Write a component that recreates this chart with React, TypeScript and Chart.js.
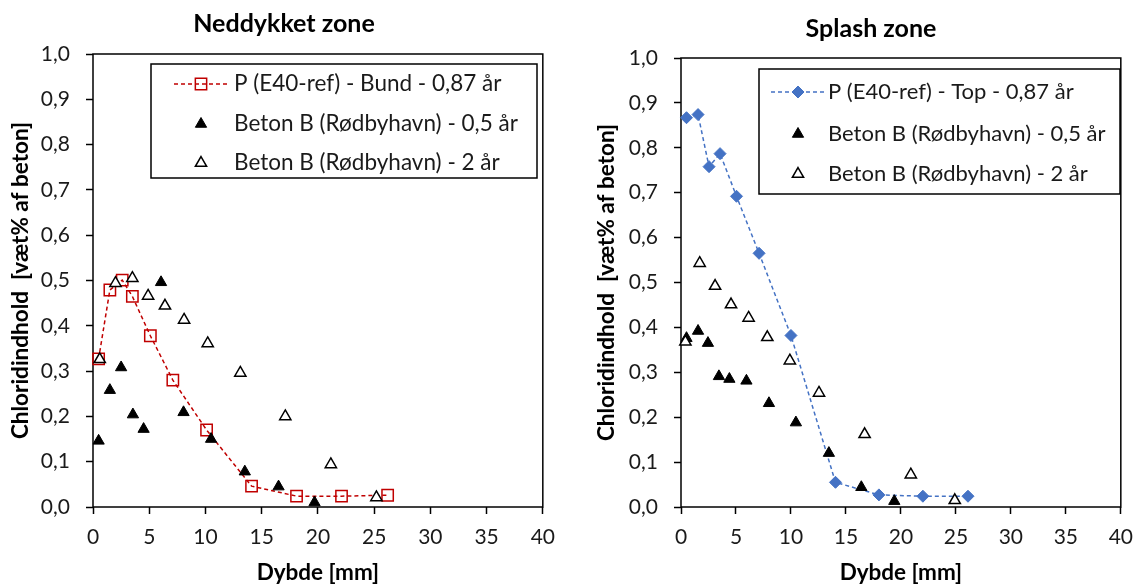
import React, { useEffect, useRef } from "react";
import { Chart, registerables } from "chart.js";

Chart.register(...registerables);

const FONT = "Lato, 'Open Sans', sans-serif";
const TEXT = "#1a1a1a";

// ---------- Data: Neddykket zone ----------
const bundLabel = "P (E40-ref) - Bund - 0,87 år";
const bundX = [0.5, 1.5, 2.6, 3.5, 5.1, 7.1, 10.1, 14.1, 18.1, 22.1, 26.2];
const bundY = [0.327, 0.479, 0.501, 0.465, 0.378, 0.28, 0.17, 0.046, 0.024, 0.024, 0.026];

const leftB05X = [0.5, 1.5, 2.5, 3.55, 4.5, 6.05, 8.05, 10.5, 13.5, 16.5, 19.7];
const leftB05Y = [0.146, 0.258, 0.308, 0.204, 0.172, 0.496, 0.209, 0.15, 0.078, 0.045, 0.01];

const leftB2X = [0.6, 2.0, 3.5, 4.9, 6.4, 8.1, 10.2, 13.1, 17.1, 21.15, 25.2];
const leftB2Y = [0.326, 0.494, 0.505, 0.466, 0.444, 0.413, 0.361, 0.296, 0.2, 0.094, 0.021];

// ---------- Data: Splash zone ----------
const topLabel = "P (E40-ref) - Top - 0,87 år";
const topX = [0.5, 1.55, 2.55, 3.55, 5.05, 7.1, 10.0, 14.05, 18.0, 22.0, 26.1];
const topY = [0.867, 0.874, 0.758, 0.787, 0.692, 0.565, 0.382, 0.055, 0.027, 0.024, 0.024];

const rightB05X = [0.5, 1.55, 2.45, 3.45, 4.4, 5.95, 8.0, 10.45, 13.45, 16.4, 19.4];
const rightB05Y = [0.376, 0.392, 0.365, 0.291, 0.285, 0.281, 0.231, 0.188, 0.12, 0.044, 0.013];

const rightB2X = [0.4, 1.7, 3.1, 4.55, 6.15, 7.85, 9.9, 12.55, 16.7, 20.9, 24.9];
const rightB2Y = [0.368, 0.543, 0.492, 0.451, 0.421, 0.378, 0.326, 0.254, 0.162, 0.072, 0.015];

const b05Label = "Beton B (Rødbyhavn) - 0,5 år";
const b2Label = "Beton B (Rødbyhavn) - 2 år";

const xAxisTitle = "Dybde [mm]";
const yAxisTitle = "Chloridindhold  [væt% af beton]";
const xMin = 0, xMax = 40, xStep = 5;
const yMin = 0, yMax = 1, yStep = 0.1;

const zip = (xs: number[], ys: number[]) => xs.map((x, i) => ({ x, y: ys[i] }));
const fmtY = (v: number) => Number(v).toFixed(1).replace(".", ",");

function drawMarker(ctx: CanvasRenderingContext2D, style: string, x: number, y: number, r: number, fill: string, stroke: string, lw: number) {
  ctx.save();
  ctx.beginPath();
  if (style === "triangle") {
    let rad = 0;
    ctx.moveTo(x + Math.sin(rad) * r, y - Math.cos(rad) * r);
    rad += (2 * Math.PI) / 3;
    ctx.lineTo(x + Math.sin(rad) * r, y - Math.cos(rad) * r);
    rad += (2 * Math.PI) / 3;
    ctx.lineTo(x + Math.sin(rad) * r, y - Math.cos(rad) * r);
    ctx.closePath();
  } else if (style === "rect") {
    const s = Math.SQRT1_2 * r;
    ctx.rect(x - s, y - s, 2 * s, 2 * s);
  } else if (style === "rectRot") {
    ctx.moveTo(x - r, y);
    ctx.lineTo(x, y - r);
    ctx.lineTo(x + r, y);
    ctx.lineTo(x, y + r);
    ctx.closePath();
  }
  if (fill && fill !== "transparent") {
    ctx.fillStyle = fill;
    ctx.fill();
  }
  if (lw > 0) {
    ctx.lineWidth = lw;
    ctx.strokeStyle = stroke;
    ctx.stroke();
  }
  ctx.restore();
}

const plotBox = {
  id: "plotBox",
  beforeDatasetsDraw(chart: any) {
    const { ctx, chartArea } = chart;
    const { left, top, right, bottom } = chartArea;
    ctx.save();
    ctx.strokeStyle = "#000";
    ctx.lineWidth = 1.5;
    ctx.strokeRect(left, top, right - left, bottom - top);
    ctx.restore();
  },
};

const boxLegend = {
  id: "boxLegend",
  afterDraw(chart: any, _args: any, opts: any) {
    const { ctx } = chart;
    const ds = chart.data.datasets;
    ctx.save();
    ctx.fillStyle = "#fff";
    ctx.fillRect(opts.x1, opts.y1, opts.x2 - opts.x1, opts.y2 - opts.y1);
    ctx.strokeStyle = "#000";
    ctx.lineWidth = 1.5;
    ctx.strokeRect(opts.x1, opts.y1, opts.x2 - opts.x1, opts.y2 - opts.y1);
    ctx.font = `${opts.fontSize}px ${FONT}`;
    ctx.textBaseline = "middle";
    ctx.textAlign = "left";
    (opts.order as number[]).forEach((di, row) => {
      const d = ds[di];
      const y = opts.rows[row];
      const mx = (opts.sx1 + opts.sx2) / 2;
      if (d.showLine) {
        ctx.save();
        ctx.strokeStyle = d.borderColor;
        ctx.lineWidth = d.borderWidth;
        ctx.setLineDash(d.borderDash || []);
        ctx.beginPath();
        ctx.moveTo(opts.sx1, y);
        ctx.lineTo(opts.sx2, y);
        ctx.stroke();
        ctx.restore();
      }
      drawMarker(ctx, d.pointStyle, mx, y, d.pointRadius, d.pointBackgroundColor, d.pointBorderColor, d.pointBorderWidth);
      ctx.fillStyle = TEXT;
      ctx.fillText(d.label, opts.tx, y);
    });
    ctx.restore();
  },
};

type Panel = {
  title: string;
  lineLabel: string;
  lineX: number[];
  lineY: number[];
  lineColor: string;
  lineMarker: string;
  lineMarkerFill: string;
  lineMarkerRadius: number;
  b05X: number[];
  b05Y: number[];
  b2X: number[];
  b2Y: number[];
  yAxisWidth: number;
  padLeft: number;
  padRight: number;
  titlePadTop: number;
  titlePadBottom: number;
  yTitlePad: number;
  legend: any;
};

function buildConfig(p: Panel): any {
  const tickFont = { family: FONT, size: 21 };
  const titleFont = { family: FONT, size: 22.5, weight: "bold" as const };
  const grid = {
    display: true,
    drawOnChartArea: false,
    drawTicks: true,
    tickLength: 7,
    tickWidth: 1.5,
    tickColor: "#000",
  };
  return {
    type: "scatter",
    data: {
      datasets: [
        {
          label: b2Label,
          data: zip(p.b2X, p.b2Y),
          pointStyle: "triangle",
          pointRadius: 6.5,
          pointHoverRadius: 6.5,
          pointBorderWidth: 1.5,
          pointBackgroundColor: "#fff",
          pointBorderColor: "#000",
          showLine: false,
          clip: false,
        },
        {
          label: b05Label,
          data: zip(p.b05X, p.b05Y),
          pointStyle: "triangle",
          pointRadius: 6.5,
          pointHoverRadius: 6.5,
          pointBorderWidth: 1,
          pointBackgroundColor: "#000",
          pointBorderColor: "#000",
          showLine: false,
          clip: false,
        },
        {
          label: p.lineLabel,
          data: zip(p.lineX, p.lineY),
          showLine: true,
          tension: 0,
          borderColor: p.lineColor,
          borderWidth: 1.5,
          borderDash: [4, 3],
          pointStyle: p.lineMarker,
          pointRadius: p.lineMarkerRadius,
          pointHoverRadius: p.lineMarkerRadius,
          pointBorderWidth: p.lineMarker === "rect" ? 1.5 : 1,
          pointBackgroundColor: p.lineMarkerFill,
          pointBorderColor: p.lineColor,
          clip: false,
        },
      ],
    },
    options: {
      responsive: false,
      animation: false,
      events: [],
      layout: { padding: { left: p.padLeft, right: p.padRight, top: 0, bottom: 0 } },
      plugins: {
        legend: { display: false },
        tooltip: { enabled: false },
        title: {
          display: true,
          text: p.title,
          color: "#000",
          font: { family: FONT, size: 25, weight: "bold" },
          padding: { top: p.titlePadTop, bottom: p.titlePadBottom },
        },
        boxLegend: p.legend,
      },
      scales: {
        x: {
          type: "linear",
          min: xMin,
          max: xMax,
          ticks: { stepSize: xStep, font: tickFont, color: TEXT, padding: 11, maxRotation: 0 },
          grid,
          border: { display: false },
          title: { display: true, text: xAxisTitle, color: "#000", font: titleFont, padding: { top: 0, bottom: -1 } },
          afterFit: (s: any) => {
            s.height = 78;
          },
        },
        y: {
          type: "linear",
          min: yMin,
          max: yMax,
          ticks: { stepSize: yStep, font: tickFont, color: TEXT, padding: 16, callback: (v: any) => fmtY(v) },
          grid,
          border: { display: false },
          title: { display: true, text: yAxisTitle, color: "#000", font: titleFont, padding: { top: p.yTitlePad, bottom: 0 } },
          afterFit: (s: any) => {
            s.width = p.yAxisWidth;
          },
        },
      },
    },
    plugins: [plotBox, boxLegend],
  };
}

// title box = [padLeft, chartRight]; chart area left = padLeft + yAxisWidth
const leftPanel: Panel = {
  title: "Neddykket zone",
  lineLabel: bundLabel,
  lineX: bundX,
  lineY: bundY,
  lineColor: "#C00000",
  lineMarker: "rect",
  lineMarkerFill: "transparent",
  lineMarkerRadius: 8,
  b05X: leftB05X,
  b05Y: leftB05Y,
  b2X: leftB2X,
  b2Y: leftB2Y,
  padLeft: 24,
  yAxisWidth: 69,
  padRight: 22,
  titlePadTop: 9.0,
  titlePadBottom: 15.0,
  yTitlePad: -16.5,
  legend: { x1: 151, y1: 64, x2: 537, y2: 178, rows: [84, 124, 163], sx1: 174, sx2: 228, tx: 234, fontSize: 22.5, order: [2, 1, 0] },
};

const rightPanel: Panel = {
  title: "Splash zone",
  lineLabel: topLabel,
  lineX: topX,
  lineY: topY,
  lineColor: "#4472C4",
  lineMarker: "rectRot",
  lineMarkerFill: "#4472C4",
  lineMarkerRadius: 6,
  b05X: rightB05X,
  b05Y: rightB05Y,
  b2X: rightB2X,
  b2Y: rightB2Y,
  padLeft: 20.5,
  yAxisWidth: 63.5,
  padRight: 19.5,
  titlePadTop: 13.5,
  titlePadBottom: 14.5,
  yTitlePad: -24,
  legend: { x1: 162, y1: 69, x2: 523, y2: 194, rows: [92, 134, 174], sx1: 174, sx2: 228, tx: 231, fontSize: 22, order: [2, 1, 0] },
};

function ChartPanel({ panel, left, width }: { panel: Panel; left: number; width: number }) {
  const ref = useRef<HTMLCanvasElement>(null);
  useEffect(() => {
    const chart = new Chart(ref.current as HTMLCanvasElement, buildConfig(panel));
    return () => chart.destroy();
  }, []);
  return (
    <div style={{ position: "absolute", left, top: 0, width, height: 585 }}>
      <canvas ref={ref} width={width} height={585} style={{ width, height: 585, display: "block" }} />
    </div>
  );
}

export default function App() {
  return (
    <div style={{ position: "fixed", left: 0, top: 0, width: 1144, height: 585, background: "#fff", overflow: "hidden" }}>
      <ChartPanel panel={leftPanel} left={0} width={566} />
      <ChartPanel panel={rightPanel} left={597} width={547} />
    </div>
  );
}
